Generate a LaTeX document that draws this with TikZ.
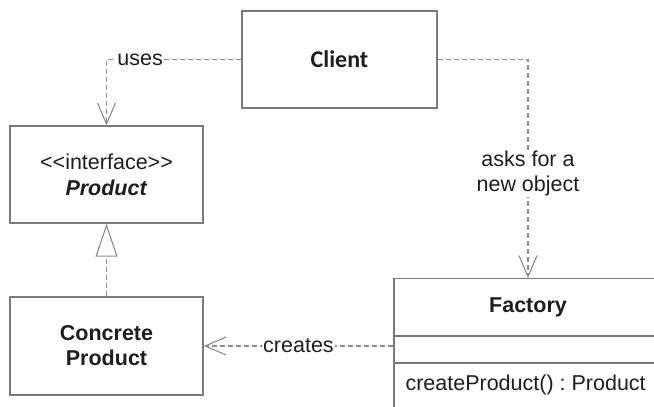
\documentclass[tikz,border=0pt]{standalone}
\usepackage{fontspec}
\setmainfont{Liberation Sans}
\newfontfamily\clientfont{Carlito}
\usetikzlibrary{arrows.meta}
\frenchspacing
\definecolor{boxline}{HTML}{7A7A7A}
\definecolor{linkline}{HTML}{8C8C8C}
\definecolor{inktext}{HTML}{1E1E1E}
\tikzset{
  umlbox/.style={draw=boxline, line width=1.4pt, fill=white, inner sep=0pt,
    text=inktext, align=center, font=\fontsize{21.5}{25}\selectfont},
  deplink/.style={draw=linkline, line width=1.1pt, dash pattern=on 5pt off 3pt,
    -{Straight Barb[length=21pt,width=18pt,line width=1.1pt]}},
  reallink/.style={draw=linkline, line width=1.1pt, dash pattern=on 5pt off 3pt,
    -{Triangle[open,length=33pt,width=22pt,line width=1.1pt,fill=white]}},
  linklabel/.style={fill=white, inner sep=1pt, text=inktext, align=center,
    font=\fontsize{21.5}{25}\selectfont},
}
\begin{document}
\begin{tikzpicture}[x=1pt,y=-1pt]
  \useasboundingbox (0,0) rectangle (654,407);
  \fill[white] (0,0) rectangle (654,407);
  \clip (0,0) rectangle (654,407);

  % classes
  \node[umlbox, minimum width=195pt, minimum height=97pt,
        font=\clientfont\bfseries\fontsize{24}{28}\selectfont] (client) at (339.5,59.5) {Client};
  \node[umlbox, minimum width=193pt, minimum height=97pt] (product) at (106.5,174.5)
        {<\kern0pt<interface>\kern0pt>\\[1pt]\textbf{\textit{Product}}};
  \node[umlbox, minimum width=193pt, minimum height=98pt] (concrete) at (106.5,346)
        {\textbf{Concrete}\\\textbf{Product}};
  \node[umlbox, minimum width=268pt, minimum height=142pt, anchor=north] (factory) at (528,278) {};
  \node[text=inktext, font=\bfseries\fontsize{21.5}{25}\selectfont] (ftitle) at (528,307) {Factory};
  \draw[boxline, line width=1.4pt] (394,336) -- (662,336);
  \draw[boxline, line width=1.4pt] (394,363) -- (662,363);
  \node[text=inktext, anchor=west, font=\fontsize{21.5}{25}\selectfont] (fop) at (402,385)
        {createProduct() : Product};

  % relations
  \draw[deplink] (client.west) -| node[linklabel, pos=0.375] {uses} (product.north);
  \draw[deplink] (client.east) -| node[linklabel, pos=0.76] {asks for a\\new object} (factory.north);
  \draw[deplink] (factory.west |- concrete.east) -- node[linklabel] {creates} (concrete.east);
  \draw[reallink] (concrete.north) -- (product.south);
\end{tikzpicture}
\end{document}
